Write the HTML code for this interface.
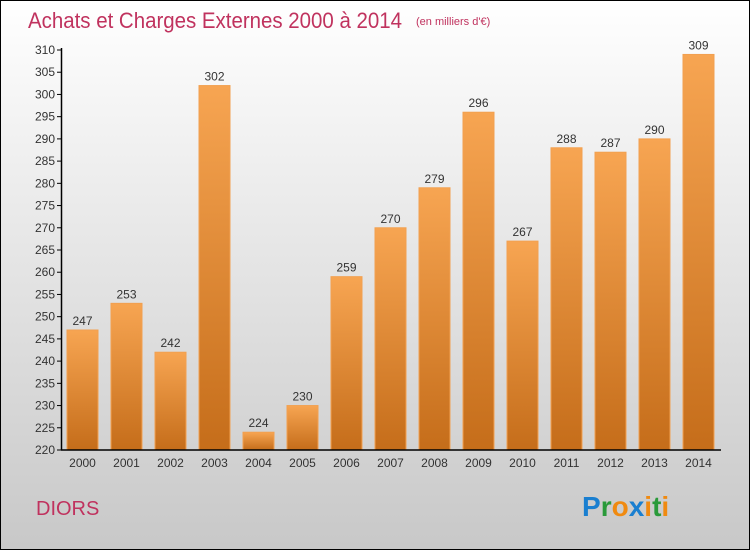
<!DOCTYPE html>
<html><head><meta charset="utf-8"><style>
body{margin:0;width:750px;height:550px;overflow:hidden}
svg{display:block;font-family:"Liberation Sans",sans-serif}
</style></head><body>
<svg id="c" width="750" height="550">
<defs>
<linearGradient id="bg" x1="0" y1="0" x2="0" y2="1"><stop offset="0" stop-color="#ffffff"/><stop offset="1" stop-color="#c8c8c8"/></linearGradient>
<linearGradient id="bar" x1="0" y1="0" x2="0" y2="1"><stop offset="0" stop-color="#f7a552"/><stop offset="1" stop-color="#c56d1a"/></linearGradient>
</defs>
<rect x="0.5" y="0.5" width="749" height="549" fill="url(#bg)" stroke="#000"/>
<text x="28" y="28" font-size="22" fill="#c0325e" textLength="374" lengthAdjust="spacingAndGlyphs">Achats et Charges Externes 2000 à 2014</text>
<text x="416" y="25" font-size="11" fill="#c0325e">(en milliers d'€)</text>
<text x="36" y="515" font-size="20" fill="#c0325e">DIORS</text>
<text x="582" y="516" font-size="28" font-family="Liberation Sans" font-weight="bold"><tspan fill="#1a7fd0">P</tspan><tspan fill="#2a9a3a">r</tspan><tspan fill="#f08a10">o</tspan><tspan fill="#1a7fd0">x</tspan><tspan fill="#f08a10">i</tspan><tspan fill="#2a9a3a">t</tspan><tspan fill="#f08a10">i</tspan></text>
<g id="g"></g>
</svg>
<script>
const years=["2000","2001","2002","2003","2004","2005","2006","2007","2008","2009","2010","2011","2012","2013","2014"];
const values=[247,253,242,302,224,230,259,270,279,296,267,288,287,290,309];
const yTicks=[220,225,230,235,240,245,250,255,260,265,270,275,280,285,290,295,300,305,310];
const NS="http://www.w3.org/2000/svg";
const g=document.getElementById('g');
const y=v=>450-(v-220)*400/90;
const x=i=>67+i*44;
function mk(t,a){const e=document.createElementNS(NS,t);for(const k in a)e.setAttribute(k,a[k]);g.appendChild(e);return e;}
yTicks.forEach(t=>{
 const l=mk('line',{x1:57,x2:62,y1:y(t),y2:y(t),stroke:'#000'});
 
 
 const tx=mk('text',{x:55,y:y(t)+4,'font-size':12,'text-anchor':'end',fill:'#333'});tx.textContent=t;
 
 
});
values.forEach((v,i)=>{
 const r=mk('rect',{x:x(i),y:y(v),width:31,height:450-y(v),fill:'url(#bar)',stroke:'#f2a050','stroke-width':1});
 
 
 const vt=mk('text',{x:x(i)+15.5,y:y(v)-5,'font-size':12,'text-anchor':'middle',fill:'#333'});vt.textContent=v;
 
 
 const xt=mk('text',{x:x(i)+15.5,y:467,'font-size':12,'text-anchor':'middle',fill:'#333'});xt.textContent=years[i];
 
 
});
const ya=mk('line',{x1:61.5,x2:61.5,y1:48,y2:450,stroke:'#000','stroke-width':1.5});


const xa=mk('line',{x1:61,x2:721,y1:450,y2:450,stroke:'#000','stroke-width':1.5});


</script>
</body></html>
